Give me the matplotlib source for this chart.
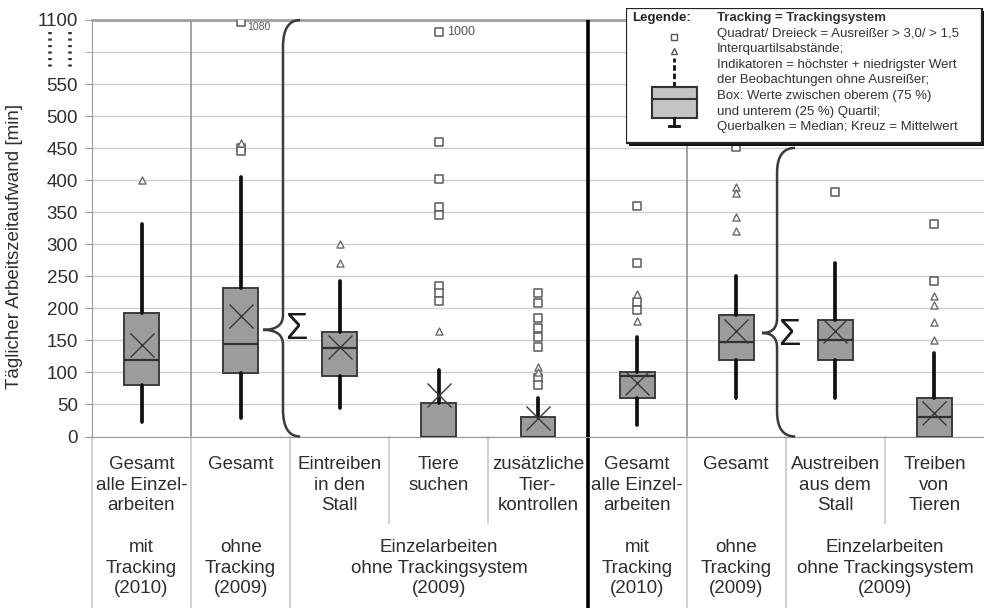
import numpy as np
import matplotlib
matplotlib.use('Agg')
import matplotlib.pyplot as plt
from matplotlib.path import Path
from matplotlib.patches import PathPatch, Rectangle
from matplotlib.transforms import blended_transform_factory

plt.rcParams['font.family'] = ['Liberation Sans', 'DejaVu Sans']

# ---------------- data ----------------
cat_labels = ["Gesamt\nalle Einzel-\narbeiten", "Gesamt", "Eintreiben\nin den\nStall",
              "Tiere\nsuchen", "zusätzliche\nTier-\nkontrollen",
              "Gesamt\nalle Einzel-\narbeiten", "Gesamt", "Austreiben\naus dem\nStall",
              "Treiben\nvon\nTieren"]
group_labels = ["mit\nTracking\n(2010)", "ohne\nTracking\n(2009)",
                "Einzelarbeiten\nohne Trackingsystem\n(2009)",
                "mit\nTracking\n(2010)", "ohne\nTracking\n(2009)",
                "Einzelarbeiten\nohne Trackingsystem\n(2009)"]
group_pos = [1, 2, 4, 6, 7, 8.5]

whislo = [23, 29, 44, 0, 0, 18, 60, 60, 0]
q1     = [81, 99, 94, 0, 0, 60, 120, 120, 0]
med    = [120, 145, 138, 0, 0, 94, 148, 150, 31]
q3     = [193, 232, 163, 52, 31, 101, 189, 182, 60]
whishi = [331, 405, 243, 104, 60, 156, 250, 271, 130]
means  = [143, 188, 140, 65, 29, 84, 164, 164, 36]

extreme = [[], [1080, 450, 445], [], [1000, 460, 402, 358, 345, 235, 224, 212],
           [224, 208, 185, 170, 155, 140, 92, 80], [360, 270, 210, 198], [452], [381],
           [331, 243]]
mild = [[400], [458], [300, 270], [164], [108, 100], [222, 180],
        [390, 380, 342, 320], [], [219, 206, 178, 150]]

annot_text = ["1080", "1000"]
annot_cat = [2, 4]
annot_val = [1080, 1000]

ytick_vals = [0, 50, 100, 150, 200, 250, 300, 350, 400, 450, 500, 550, 1100]
ytick_text = ["0", "50", "100", "150", "200", "250", "300", "350", "400", "450",
              "500", "550", "1100"]

legend_lines = ["Tracking = Trackingsystem",
                "Quadrat/ Dreieck = Ausreißer > 3,0/ > 1,5",
                "Interquartilsabstände;",
                "Indikatoren = höchster + niedrigster Wert",
                "der Beobachtungen ohne Ausreißer;",
                "Box: Werte zwischen oberem (75 %)",
                "und unterem (25 %) Quartil;",
                "Querbalken = Median; Kreuz = Mittelwert"]

# ---------------- figure ----------------
W, H = 984, 608
fig = plt.figure(figsize=(W / 100, H / 100), dpi=100)
ax_l, ax_r, ax_t, ax_b = 92, 984, 20, 436.5
ax = fig.add_axes([ax_l / W, (H - ax_b) / H, (ax_r - ax_l) / W, (ax_b - ax_t) / H])


def fwd(v):
    v = np.asarray(v, dtype=float)
    return np.where(v <= 550, v, 550 + (v - 550) / 5.5)


def inv(u):
    u = np.asarray(u, dtype=float)
    return np.where(u <= 550, u, 550 + (u - 550) * 5.5)


ax.set_yscale('function', functions=(fwd, inv))
ax.set_ylim(0, 1100)
ax.set_xlim(0.5, 9.5)

txtc = '#2e2e2e'
ax.set_yticks(ytick_vals)
ax.set_yticklabels(ytick_text, fontsize=13.5, color=txtc)
ax.set_yticks([825], minor=True)
ax.tick_params(axis='y', which='major', length=5, color='#999999', pad=5)
ax.tick_params(axis='y', which='minor', length=5, color='#999999')
ax.set_xticks([])
ax.yaxis.grid(True, which='both', color='#cfcfcf', linewidth=1.0, zorder=0)
ax.set_axisbelow(True)
ax.spines['right'].set_visible(False)
ax.spines['top'].set_color('#a0a0a0')
ax.spines['top'].set_linewidth(2.0)
ax.spines['left'].set_color('#999999')
ax.spines['bottom'].set_color('#999999')

# separators inside plot
ax.axvline(1.5, color='#9a9a9a', lw=1.3, zorder=1)
ax.axvline(6.5, color='#9a9a9a', lw=1.3, zorder=1)
ax.axvline(5.5, color='black', lw=2.6, zorder=6)

# boxplots
stats = []
for i in range(9):
    stats.append(dict(whislo=whislo[i], q1=q1[i], med=med[i], q3=q3[i],
                      whishi=whishi[i], mean=means[i], fliers=[]))
ax.bxp(stats, positions=list(range(1, 10)), widths=0.353, patch_artist=True,
       showmeans=True, showcaps=False, showfliers=False, manage_ticks=False,
       boxprops=dict(facecolor='#9c9c9c', edgecolor='#3c3c3c', linewidth=1.4),
       medianprops=dict(color='#303030', linewidth=1.6),
       whiskerprops=dict(color='#111111', linewidth=2.7, solid_capstyle='round'),
       meanprops=dict(marker='x', markersize=17, markeredgecolor='#383838',
                      markeredgewidth=1.0, linestyle='none'),
       zorder=3)

for i in range(9):
    if extreme[i]:
        ax.scatter([i + 1] * len(extreme[i]), extreme[i], marker='s', s=30,
                   facecolor='white', edgecolor='#5a5a5a', linewidths=1.1, zorder=5)
    if mild[i]:
        ax.scatter([i + 1] * len(mild[i]), mild[i], marker='^', s=26,
                   facecolor='white', edgecolor='#6a6a6a', linewidths=1.0, zorder=5)

ax.text(annot_cat[0] + 0.07, annot_val[0], annot_text[0], fontsize=7.5, color='#555555',
        va='top', ha='left', zorder=6)
ax.text(annot_cat[1] + 0.08, annot_val[1], annot_text[1], fontsize=9, color='#555555',
        va='center', ha='left', zorder=6)

# braces
bt = blended_transform_factory(ax.transData, ax.transAxes)


def brace(xv, xt, xe, yt, ytip, yb, r, rt):
    verts = [(xe, yt), (xv, yt), (xv, yt - r),
             (xv, ytip + rt),
             (xv, ytip), (xt, ytip),
             (xv, ytip), (xv, ytip - rt),
             (xv, yb + r),
             (xv, yb), (xe, yb)]
    codes = [Path.MOVETO, Path.CURVE3, Path.CURVE3, Path.LINETO,
             Path.CURVE3, Path.CURVE3, Path.CURVE3, Path.CURVE3,
             Path.LINETO, Path.CURVE3, Path.CURVE3]
    p = PathPatch(Path(verts, codes), facecolor='none', edgecolor='#3a3a3a',
                  lw=1.8, transform=bt, clip_on=False, zorder=6)
    ax.add_patch(p)


brace(2.427, 2.226, 2.60, 1.0, 0.256, 0.0, 0.065, 0.035)
brace(7.412, 7.261, 7.594, 0.693, 0.2485, 0.0, 0.06, 0.035)
ax.text(2.56, 0.258, 'Σ', transform=bt, fontsize=26, ha='center', va='center',
        color='#1a1a1a', zorder=6)
ax.text(7.54, 0.243, 'Σ', transform=bt, fontsize=26, ha='center', va='center',
        color='#1a1a1a', zorder=6)

# axis break dots next to labels
for xp in (50, 70):
    xa = (xp - ax_l) / (ax_r - ax_l)
    ax.plot([xa, xa], [(ax_b - 32) / (ax_b - ax_t), (ax_b - 67) / (ax_b - ax_t)],
            transform=ax.transAxes, clip_on=False, color='#333333', lw=2.6,
            linestyle=(0, (0.6, 1.2)), dash_capstyle='butt')

# category label area
ybot = -(H - ax_b) / (ax_b - ax_t)
ymid = (ax_b - 523) / (ax_b - ax_t)
full_lines = [0.5, 1.5, 2.5, 6.5, 7.5]
short_lines = [3.5, 4.5, 8.5]
for xv in full_lines:
    ax.plot([xv, xv], [0, ybot], transform=bt, clip_on=False, color='#c4c4c4', lw=1.1)
for xv in short_lines:
    ax.plot([xv, xv], [0, ymid], transform=bt, clip_on=False, color='#c4c4c4', lw=1.1)
ax.plot([5.5, 5.5], [0, ybot], transform=bt, clip_on=False, color='black', lw=2.6)

row1_top = (ax_b - 456) / (ax_b - ax_t)
row2_top = (ax_b - 539) / (ax_b - ax_t)
for i, lab in enumerate(cat_labels):
    ax.text(i + 1, row1_top, lab, transform=bt, ha='center', va='top',
            fontsize=13.5, color=txtc, linespacing=1.27, multialignment='center')
for gp, lab in zip(group_pos, group_labels):
    ax.text(gp, row2_top, lab, transform=bt, ha='center', va='top',
            fontsize=13.5, color=txtc, linespacing=1.27, multialignment='center')

fig.text(15 / W, 1 - 246 / H, "Täglicher Arbeitszeitaufwand [min]", rotation=90,
         ha='center', va='center', fontsize=13.5, color=txtc)

# ---------------- legend box ----------------
lx0, lx1, ly0, ly1 = 626, 982, 8, 143
lax = fig.add_axes([lx0 / W, (H - ly1 - 3) / H, (lx1 - lx0 + 3) / W, (ly1 - ly0 + 3) / H])
lax.set_xlim(lx0, lx1 + 3)
lax.set_ylim(ly1 + 3, ly0)
lax.axis('off')
lax.add_patch(Rectangle((lx0 + 3, ly0 + 3), lx1 - lx0, ly1 - ly0, facecolor='#111111',
                        edgecolor='none', zorder=1))
lax.add_patch(Rectangle((lx0, ly0), lx1 - lx0, ly1 - ly0, facecolor='white',
                        edgecolor='#222222', lw=1.6, zorder=2))
lax.text(632, 18, "Legende:", fontsize=9.5, fontweight='bold', color='#222222',
         va='center', ha='left', zorder=3)
for k, line in enumerate(legend_lines):
    lax.text(717, 18 + 15.6 * k, line, fontsize=9.5, color='#333333', va='center',
             ha='left', zorder=3, fontweight='bold' if k == 0 else 'normal')
# mini boxplot in legend
lax.plot([674, 674], [87, 58], color='#111111', lw=2, linestyle=(0, (2, 1)), zorder=3)
lax.plot([674], [51], marker='^', ms=5, mfc='white', mec='#555555', zorder=4)
lax.plot([674], [37], marker='s', ms=5, mfc='white', mec='#555555', zorder=4)
lax.add_patch(Rectangle((652, 87), 45, 31, facecolor='#c4c4c4', edgecolor='#333333',
                        lw=1.5, zorder=3))
lax.plot([652, 697], [99, 99], color='#333333', lw=1.5, zorder=4)
lax.plot([674, 674], [118, 126], color='#111111', lw=2, zorder=3)
lax.plot([669, 679], [126, 126], color='#111111', lw=2, zorder=3)

fig.savefig('out.png', dpi=100)
